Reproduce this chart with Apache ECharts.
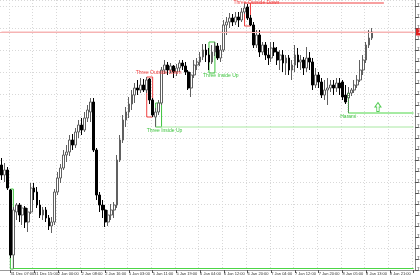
<!DOCTYPE html>
<html><head><meta charset="utf-8">
<script src="https://cdn.jsdelivr.net/npm/echarts@6/dist/echarts.min.js"></script>
<style>html,body{margin:0;padding:0;background:#fff}#c{width:420px;height:280px}</style>
</head><body><div id="c"></div>
<script>
// H1 candles, values (price units)
const opens  = [119.41,119.31,119.36,119.16,118.51,118.94,119.01,118.91,118.98,118.84,118.94,119.18,119.14,119.01,118.91,118.96,118.88,118.80,118.84,119.14,119.28,119.38,119.51,119.54,119.66,119.61,119.74,119.81,119.76,119.88,119.94,120.04,119.56,119.11,119.01,118.96,118.84,118.91,118.96,119.01,119.46,119.66,119.86,119.94,120.02,120.11,120.18,120.16,120.21,120.16,120.27,120.06,119.89,119.94,120.03,120.36,120.41,120.36,120.40,120.34,120.38,120.43,120.40,120.34,120.18,120.31,120.41,120.44,120.49,120.56,120.51,120.44,120.54,120.60,120.48,120.56,120.81,120.84,120.88,120.84,120.89,120.86,120.94,120.99,120.88,120.81,120.61,120.71,120.54,120.61,120.51,120.48,120.58,120.54,120.46,120.51,120.43,120.48,120.36,120.41,120.51,120.44,120.46,120.38,120.48,120.44,120.21,120.31,120.24,120.11,120.16,120.18,120.21,120.18,120.23,120.24,120.11,120.08,120.13,120.16,120.21,120.26,120.36,120.46,120.61,120.68];
const closes = [119.31,119.36,119.18,118.51,118.96,119.01,118.91,118.98,118.84,118.94,119.18,119.14,119.01,118.91,118.96,118.88,118.80,118.84,119.14,119.28,119.38,119.51,119.54,119.66,119.61,119.74,119.81,119.76,119.88,119.96,120.04,119.56,119.11,119.01,118.96,118.84,118.91,118.96,119.01,119.46,119.66,119.86,119.94,120.02,120.11,120.18,120.16,120.21,120.16,120.26,120.06,119.91,119.94,120.03,120.36,120.41,120.36,120.40,120.34,120.38,120.43,120.40,120.34,120.18,120.31,120.41,120.44,120.49,120.56,120.51,120.44,120.54,120.60,120.48,120.56,120.81,120.84,120.88,120.84,120.89,120.86,120.94,120.98,120.88,120.81,120.61,120.71,120.54,120.61,120.51,120.48,120.58,120.54,120.46,120.51,120.43,120.48,120.36,120.41,120.51,120.44,120.46,120.38,120.48,120.44,120.21,120.31,120.24,120.11,120.16,120.18,120.21,120.18,120.23,120.18,120.09,120.04,120.13,120.16,120.21,120.26,120.36,120.46,120.61,120.68,120.74];
const lows   = [119.26,119.24,119.16,118.48,118.37,118.86,118.84,118.81,118.78,118.74,118.92,119.06,118.98,118.88,118.86,118.84,118.76,118.73,118.81,119.11,119.23,119.36,119.44,119.50,119.56,119.58,119.68,119.71,119.74,119.84,119.84,119.54,119.06,118.94,118.88,118.79,118.80,118.86,118.88,118.98,119.44,119.63,119.79,119.88,119.96,120.03,120.11,120.13,120.14,120.13,120.02,119.89,119.79,119.91,120.01,120.32,120.31,120.33,120.28,120.30,120.34,120.36,120.31,120.16,120.09,120.28,120.36,120.40,120.46,120.44,120.36,120.42,120.50,120.46,120.44,120.54,120.71,120.78,120.80,120.81,120.79,120.84,120.92,120.86,120.80,120.58,120.58,120.49,120.51,120.46,120.41,120.44,120.50,120.41,120.36,120.34,120.31,120.31,120.26,120.34,120.38,120.36,120.31,120.34,120.36,120.16,120.18,120.18,120.08,120.06,120.01,120.14,120.11,120.14,120.11,120.06,120.02,119.93,120.10,120.13,120.18,120.24,120.31,120.43,120.58,120.66];
const highs  = [119.48,119.43,119.39,119.17,118.99,119.03,119.03,119.01,119.00,118.98,119.23,119.23,119.19,119.06,118.99,118.99,118.91,118.89,119.17,119.34,119.42,119.56,119.61,119.71,119.72,119.78,119.86,119.88,119.94,120.01,120.08,120.08,119.58,119.14,119.06,119.01,118.96,119.02,119.04,119.51,119.71,119.91,119.99,120.09,120.16,120.23,120.26,120.28,120.27,120.29,120.28,120.08,119.98,120.06,120.39,120.46,120.44,120.43,120.41,120.42,120.46,120.46,120.44,120.36,120.34,120.46,120.48,120.54,120.62,120.62,120.58,120.61,120.64,120.63,120.61,120.86,120.89,120.93,120.92,120.94,120.94,120.98,121.03,121.02,120.91,120.84,120.76,120.76,120.64,120.64,120.58,120.64,120.64,120.59,120.56,120.56,120.51,120.51,120.46,120.61,120.58,120.51,120.49,120.59,120.54,120.48,120.38,120.34,120.28,120.26,120.28,120.26,120.26,120.28,120.28,120.26,120.21,120.19,120.18,120.26,120.31,120.46,120.51,120.64,120.76,120.78];
const tickLabels = ["31 Dec 07:00","31 Dec 15:00","2 Jan 00:00","2 Jan 08:00","2 Jan 16:00","5 Jan 03:00","5 Jan 11:00","5 Jan 19:00","6 Jan 04:00","6 Jan 12:00","6 Jan 20:00","7 Jan 04:00","7 Jan 12:00","7 Jan 20:00","8 Jan 05:00","8 Jan 13:00","8 Jan 21:00"];
const firstTickBar = 3, barsPerTick = 8, totalSlots = 140;
// pattern boxes: [name, firstBar, lastBar, top price, bottom price, kind]
const patterns = [
  ["Three Inside Up", 3, 4, 119.17, 118.37, "up"],
  ["Three Outside Down", 49, 51, 120.29, 119.89, "down"],
  ["Three Inside Up", 52, 54, 120.03, 119.79, "up"],
  ["Three Inside Up", 70, 72, 120.64, 120.33, "up"],
  ["Three Outside Down", 82, 84, 121.03, 120.80, "down"]
];
// pattern labels: [text, bar, price, kind]
const patternLabels = [
  ["Three Outside Down", 53, 120.33, "down"],
  ["Three Inside Up", 55, 119.755, "up"],
  ["Three Inside Up", 74, 120.30, "up"],
  ["Three Outside Down", 86, 121.035, "down"],
  ["Harami", 117, 119.89, "up"]
];
// level lines: [fromBar, toBar, price, kind]
const levels = [
  [4, 139, 118.375, "upStrong"],
  [52, 139, 119.79, "upPale"],
  [117, 139, 119.93, "upStrong"],
  [84, 129, 121.03, "down"]
];
const haramiBar = 117, haramiHigh = 120.13, haramiLow = 119.93;
const arrowBar = 127, arrowPrice = 119.99;
const bidPrice = 120.74;

const cats = [];
for (let i = 0; i < totalSlots; i++) cats.push(String(i));
const candleData = opens.map((o, i) => [o, closes[i], lows[i], highs[i]]);
const isTick = i => i >= firstTickBar && (i - firstTickBar) % barsPerTick === 0;
const colors = {up: '#3ec43e', down: '#f04040', upStrong: '#4cd646', upPale: '#a9e8a2', bid: '#f6b4b4'};

const markAreaData = patterns.map(p => [
  {coord: [p[1], p[3]], itemStyle: {borderColor: colors[p[5]]}},
  {coord: [p[2], p[4]]}
]);

const levelSeries = levels.map(l => ({
  type: 'line', data: [[l[0], l[2]], [l[1], l[2]]], symbol: 'none', silent: true, z: 4,
  lineStyle: {color: colors[l[3]], width: 1, type: 'solid'}, itemStyle: {color: colors[l[3]]}
}));
levelSeries.push({
  type: 'line', data: [[haramiBar, haramiHigh], [haramiBar, haramiLow]], symbol: 'none', silent: true, z: 4,
  lineStyle: {color: colors.up, width: 1, type: [1, 1]}, itemStyle: {color: colors.up}
});

const markPointData = patternLabels.map(t => ({
  coord: [t[1], t[2]], symbol: 'rect', symbolSize: 1, itemStyle: {color: 'rgba(0,0,0,0)'},
  label: {show: true, formatter: t[0], color: colors[t[3]], fontSize: 5, position: 'inside',
          fontFamily: 'Liberation Sans'}
}));
markPointData.push({
  coord: [arrowBar, arrowPrice], symbol: 'path://M5,0 L10,5 L7,5 L7,10 L3,10 L3,5 L0,5 Z',
  symbolSize: [6, 9], itemStyle: {color: 'rgba(0,0,0,0)', borderColor: '#55cc55', borderWidth: 1},
  label: {show: false}
});

const chart = echarts.init(document.getElementById('c'), null, {renderer: 'canvas'});
chart.setOption({
  animation: false,
  backgroundColor: '#ffffff',
  grid: {left: 0, right: 5, top: 0, bottom: 10, containLabel: false, outerBoundsMode: 'none'},
  xAxis: {
    type: 'category', data: cats, boundaryGap: true,
    axisLine: {show: true, lineStyle: {color: '#999', width: 1}},
    axisTick: {show: true, interval: (i) => isTick(i), alignWithLabel: true, length: 3, lineStyle: {color: '#555'}},
    axisLabel: {show: true, interval: (i) => isTick(i), align: 'left', margin: 2, fontSize: 4, color: '#333',
      fontFamily: 'Liberation Sans', hideOverlap: false,
      formatter: (v, i) => isTick(i) ? tickLabels[(i - firstTickBar) / barsPerTick] || '' : ''},
    splitLine: {show: true, interval: (i) => isTick(i), lineStyle: {color: '#d8d8d8', type: [1, 2]}}
  },
  yAxis: [{
    type: 'value', position: 'right', min: 118.36, max: 121.06, interval: 0.11, scale: true,
    axisLine: {show: true, lineStyle: {color: '#888'}},
    axisTick: {show: true, length: 3, lineStyle: {color: '#555'}},
    axisLabel: {show: true, fontSize: 4.5, color: '#333', margin: 2, showMaxLabel: false,
      fontFamily: 'Liberation Sans', formatter: v => v.toFixed(2)},
    splitLine: {show: false}
  }, {
    type: 'value', position: 'right', min: 118.36, max: 121.06, interval: 0.22, scale: true,
    axisLine: {show: false}, axisTick: {show: false}, axisLabel: {show: false},
    splitLine: {show: true, lineStyle: {color: '#d8d8d8', type: [1, 2]}}
  }],
  series: [{
    type: 'line', data: [[0, bidPrice], [totalSlots - 1, bidPrice]], symbol: 'none', silent: true, z: 1,
    lineStyle: {color: colors.bid, width: 1}, itemStyle: {color: colors.bid},
    markLine: {silent: true, symbol: ['none', 'none'],
      lineStyle: {color: colors.bid, width: 1, type: 'solid'},
      label: {show: true, position: 'end', formatter: bidPrice.toFixed(2), backgroundColor: '#e02020', color: '#fff',
              fontSize: 4.5, padding: [1, 2], distance: 1},
      data: [{yAxis: bidPrice}]}
  }, {
    type: 'candlestick', data: candleData, barWidth: 2.3, clip: false, z: 3,
    itemStyle: {color: '#ffffff', color0: '#000000', borderColor: '#606060', borderColor0: '#000000', borderWidth: 1},
    markArea: {silent: true, itemStyle: {color: 'rgba(0,0,0,0)', borderWidth: 1}, label: {show: false}, data: markAreaData},
    markPoint: {silent: true, data: markPointData}
  }].concat(levelSeries)
});
</script></body></html>
